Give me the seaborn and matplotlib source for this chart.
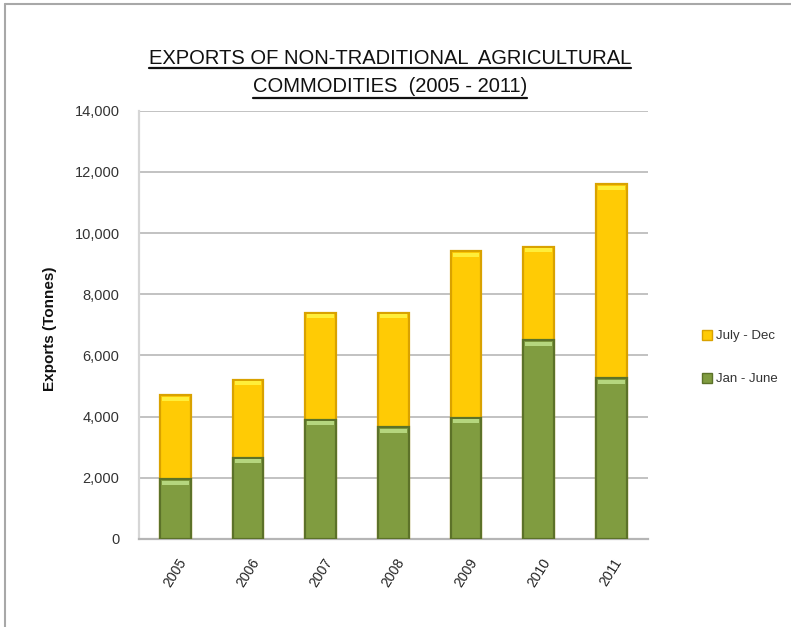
import matplotlib
matplotlib.use("Agg")
import matplotlib.pyplot as plt
from matplotlib.patches import Patch
from matplotlib.lines import Line2D
import seaborn as sns
import pandas as pd
import numpy as np

# Export volumes (tonnes) per half-year
years = ["2005", "2006", "2007", "2008", "2009", "2010", "2011"]
jan_june = [1950, 2650, 3900, 3650, 3970, 6500, 5250]
july_dec = [2750, 2550, 3500, 3750, 5430, 3050, 6350]
y_ticks = [0, 2000, 4000, 6000, 8000, 10000, 12000, 14000]

df = pd.DataFrame({"year": years, "jan_june": jan_june, "july_dec": july_dec})
df["total"] = df["jan_june"] + df["july_dec"]

sns.set_theme(style="white")
plt.rcParams["font.family"] = ["Liberation Sans", "DejaVu Sans"]

W, H = 791, 627
fig = plt.figure(figsize=(W / 100, H / 100), dpi=100)
ax = fig.add_axes([0.1757, 0.1404, 0.643, 0.683])

yellow, yellow_edge, yellow_top = "#FFCB05", "#D9A200", "#FFEE3A"
green, green_edge, green_top = "#809C40", "#5C7229", "#B5D67E"
bw = 0.42

# stacked bars: total in yellow, Jan-June overlaid in green
sns.barplot(data=df, x="year", y="total", color=yellow, width=bw, ax=ax,
            saturation=1, edgecolor=yellow_edge, linewidth=1.6, zorder=3)
sns.barplot(data=df, x="year", y="jan_june", color=green, width=bw, ax=ax,
            saturation=1, edgecolor=green_edge, linewidth=1.6, zorder=4)

# bevel highlight along the top of each segment
pos = np.arange(len(years))
hl = 130
ax.bar(pos, hl, bottom=df["total"] - hl - 50, width=bw - 0.05,
       color=yellow_top, linewidth=0, zorder=5)
ax.bar(pos, hl, bottom=df["jan_june"] - hl - 50, width=bw - 0.05,
       color=green_top, linewidth=0, zorder=5)

ax.set_ylim(0, 14000)
ax.set_xlim(-0.5, len(years) - 0.5)
ax.set_yticks(y_ticks)
ax.set_yticklabels([f"{v:,}" for v in y_ticks], fontsize=10.5, color="#333333")
ax.set_xticks(pos)
ax.set_xticklabels(years, rotation=58, ha="center", va="top", fontsize=10,
                   color="#222222")
ax.tick_params(axis="x", pad=12, length=0)
ax.tick_params(axis="y", pad=14, length=0)
ax.set_xlabel("")
ax.set_ylabel("Exports (Tonnes)", fontsize=11, fontweight="bold",
              color="#111111")
ax.yaxis.set_label_coords(-0.161, 0.49)

ax.yaxis.grid(True, color="#BDBDBD", linewidth=1.3, zorder=0)
ax.set_axisbelow(True)
for side in ["top", "right"]:
    ax.spines[side].set_visible(False)
ax.spines["left"].set_color("#D6D6D6")
ax.spines["left"].set_linewidth(1.6)
ax.spines["bottom"].set_color("#B5B5B5")
ax.spines["bottom"].set_linewidth(1.6)

# underlined two-line title
t1 = fig.text(390 / W, 1 - 58 / H, "EXPORTS OF NON-TRADITIONAL  AGRICULTURAL",
              ha="center", va="center", fontsize=14.5, color="#111111")
t2 = fig.text(390 / W, 1 - 86 / H, "COMMODITIES  (2005 - 2011)",
              ha="center", va="center", fontsize=14.5, color="#111111")
fig.canvas.draw()
renderer = fig.canvas.get_renderer()
for t, uy in [(t1, 68), (t2, 98)]:
    bb = t.get_window_extent(renderer)
    fig.add_artist(Line2D([bb.x0 / W, bb.x1 / W], [1 - uy / H, 1 - uy / H],
                          color="#111111", linewidth=1.6))

handles = [Patch(facecolor=yellow, edgecolor=yellow_edge, label="July - Dec"),
           Patch(facecolor=green, edgecolor=green_edge, label="Jan - June")]
fig.legend(handles=handles, loc="center left", bbox_to_anchor=(0.872, 0.43),
           frameon=False, fontsize=9.5, handlelength=0.8, handleheight=0.8,
           handletextpad=0.3, labelspacing=2.3, labelcolor="#333333")

# page border
fig.add_artist(Line2D([0.006, 0.006], [0, 0.994], color="#A8A8A8", linewidth=1.5))
fig.add_artist(Line2D([0.006, 1.0], [0.994, 0.994], color="#A8A8A8", linewidth=1.5))

fig.savefig("out.png", dpi=100)
